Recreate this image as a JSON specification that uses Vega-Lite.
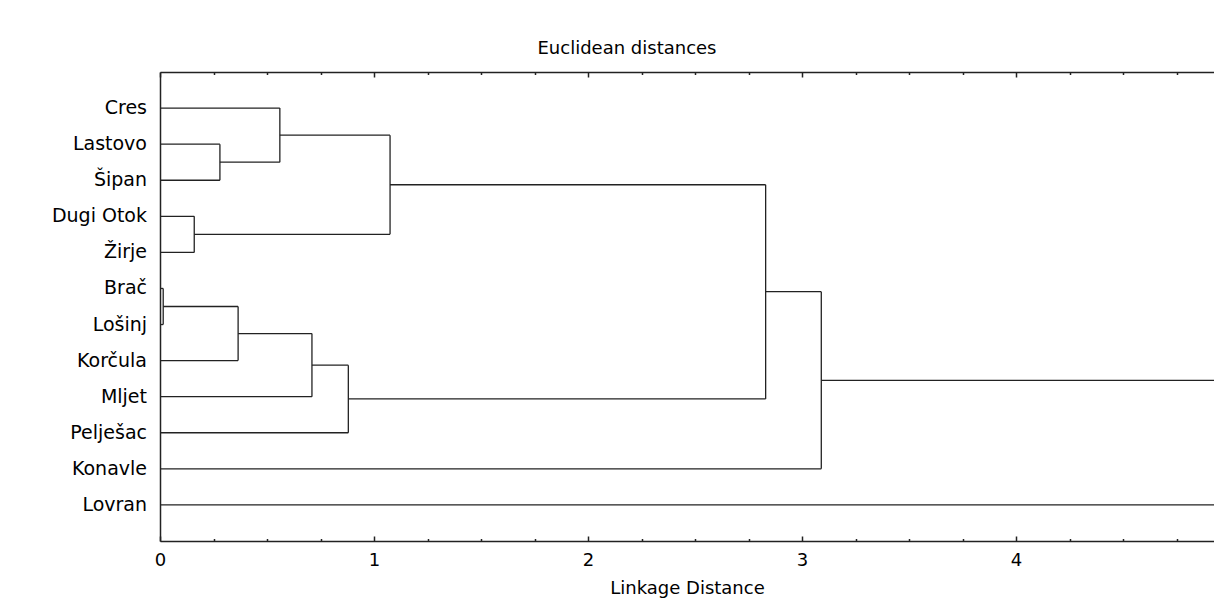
{
  "$schema": "https://vega.github.io/schema/vega-lite/v6.json",
  "autosize": {"type": "none"},
  "padding": {"left": 160, "top": 72, "right": 0, "bottom": 58},
  "width": 1054,
  "height": 469,
  "background": "white",
  "title": {
    "text": "Euclidean distances",
    "font": "DejaVu Sans",
    "fontSize": 18,
    "fontWeight": "normal",
    "color": "#000000",
    "anchor": "middle",
    "dx": -60,
    "offset": 13
  },
  "config": {
    "view": {"stroke": null},
    "axis": {
      "labelFont": "DejaVu Sans",
      "labelFontSize": 18,
      "labelColor": "#000000",
      "titleFont": "DejaVu Sans",
      "titleFontSize": 18,
      "titleFontWeight": "normal",
      "titleColor": "#000000",
      "domainColor": "#222222",
      "domainWidth": 1.5,
      "tickColor": "#222222",
      "tickWidth": 1.5,
      "grid": false
    }
  },
  "datasets": {
    "segments": [
      {"x1": 0, "x2": 0.56, "y1": 1, "y2": 1},
      {"x1": 0, "x2": 0.28, "y1": 2, "y2": 2},
      {"x1": 0, "x2": 0.28, "y1": 3, "y2": 3},
      {"x1": 0, "x2": 0.16, "y1": 4, "y2": 4},
      {"x1": 0, "x2": 0.16, "y1": 5, "y2": 5},
      {"x1": 0, "x2": 0.015, "y1": 6, "y2": 6},
      {"x1": 0, "x2": 0.015, "y1": 7, "y2": 7},
      {"x1": 0, "x2": 0.365, "y1": 8, "y2": 8},
      {"x1": 0, "x2": 0.71, "y1": 9, "y2": 9},
      {"x1": 0, "x2": 0.88, "y1": 10, "y2": 10},
      {"x1": 0, "x2": 3.09, "y1": 11, "y2": 11},
      {"x1": 0, "x2": 5.2, "y1": 12, "y2": 12},
      {"x1": 0.015, "x2": 0.365, "y1": 6.5, "y2": 6.5},
      {"x1": 0.365, "x2": 0.71, "y1": 7.25, "y2": 7.25},
      {"x1": 0.71, "x2": 0.88, "y1": 8.125, "y2": 8.125},
      {"x1": 0.88, "x2": 2.83, "y1": 9.0625, "y2": 9.0625},
      {"x1": 0.28, "x2": 0.56, "y1": 2.5, "y2": 2.5},
      {"x1": 0.56, "x2": 1.075, "y1": 1.75, "y2": 1.75},
      {"x1": 0.16, "x2": 1.075, "y1": 4.5, "y2": 4.5},
      {"x1": 1.075, "x2": 2.83, "y1": 3.125, "y2": 3.125},
      {"x1": 2.83, "x2": 3.09, "y1": 6.09, "y2": 6.09},
      {"x1": 3.09, "x2": 5.2, "y1": 8.55, "y2": 8.55},
      {"x1": 0.015, "x2": 0.015, "y1": 6, "y2": 7},
      {"x1": 0.365, "x2": 0.365, "y1": 6.5, "y2": 8},
      {"x1": 0.71, "x2": 0.71, "y1": 7.25, "y2": 9},
      {"x1": 0.88, "x2": 0.88, "y1": 8.125, "y2": 10},
      {"x1": 0.28, "x2": 0.28, "y1": 2, "y2": 3},
      {"x1": 0.56, "x2": 0.56, "y1": 1, "y2": 2.5},
      {"x1": 0.16, "x2": 0.16, "y1": 4, "y2": 5},
      {"x1": 1.075, "x2": 1.075, "y1": 1.75, "y2": 4.5},
      {"x1": 2.83, "x2": 2.83, "y1": 3.125, "y2": 9.0625},
      {"x1": 3.09, "x2": 3.09, "y1": 6.09, "y2": 11}
    ],
    "leaves": [
      {"name": "Cres", "pos": 1},
      {"name": "Lastovo", "pos": 2},
      {"name": "Šipan", "pos": 3},
      {"name": "Dugi Otok", "pos": 4},
      {"name": "Žirje", "pos": 5},
      {"name": "Brač", "pos": 6},
      {"name": "Lošinj", "pos": 7},
      {"name": "Korčula", "pos": 8},
      {"name": "Mljet", "pos": 9},
      {"name": "Pelješac", "pos": 10},
      {"name": "Konavle", "pos": 11},
      {"name": "Lovran", "pos": 12}
    ]
  },
  "resolve": {"axis": {"x": "independent", "y": "independent"}},
  "layer": [
    {
      "data": {"name": "segments"},
      "mark": {"type": "rule", "color": "#222222", "strokeWidth": 1.3, "clip": true},
      "encoding": {
        "x": {
          "field": "x1", "type": "quantitative",
          "scale": {"domain": [0, 4.925], "nice": false, "zero": false},
          "axis": {
            "orient": "bottom", "values": [0, 1, 2, 3, 4], "format": "d", "labelFlush": false,
            "tickSize": -5, "labelPadding": 15, "title": "Linkage Distance", "titlePadding": 10
          }
        },
        "x2": {"field": "x2"},
        "y": {
          "field": "y1", "type": "quantitative",
          "scale": {"domain": [0, 13], "nice": false, "zero": false, "reverse": true},
          "axis": {"orient": "left", "ticks": false, "labels": false, "title": null, "domain": true}
        },
        "y2": {"field": "y2"}
      }
    },
    {
      "data": {"name": "segments"},
      "mark": {"type": "rule", "opacity": 0},
      "encoding": {
        "x": {
          "field": "x1", "type": "quantitative",
          "scale": {"domain": [0, 4.925], "nice": false, "zero": false},
          "axis": {"orient": "top", "values": [0, 1, 2, 3, 4], "tickSize": -5, "labels": false, "title": null, "domain": true}
        },
        "y": {"field": "y1", "type": "quantitative", "scale": {"domain": [0, 13], "nice": false, "zero": false, "reverse": true}, "axis": null}
      }
    },
    {
      "data": {"name": "segments"},
      "mark": {"type": "rule", "opacity": 0},
      "encoding": {
        "x": {
          "field": "x1", "type": "quantitative",
          "scale": {"domain": [0, 4.925], "nice": false, "zero": false},
          "axis": {"orient": "top", "values": [0.25, 0.5, 0.75, 1.25, 1.5, 1.75, 2.25, 2.5, 2.75, 3.25, 3.5, 3.75, 4.25, 4.5, 4.75], "tickSize": -2.5, "labels": false, "title": null, "domain": false}
        },
        "y": {"field": "y1", "type": "quantitative", "scale": {"domain": [0, 13], "nice": false, "zero": false, "reverse": true}, "axis": null}
      }
    },
    {
      "data": {"name": "segments"},
      "mark": {"type": "rule", "opacity": 0},
      "encoding": {
        "x": {
          "field": "x1", "type": "quantitative",
          "scale": {"domain": [0, 4.925], "nice": false, "zero": false},
          "axis": {"orient": "bottom", "values": [0.25, 0.5, 0.75, 1.25, 1.5, 1.75, 2.25, 2.5, 2.75, 3.25, 3.5, 3.75, 4.25, 4.5, 4.75], "tickSize": -2.5, "labels": false, "title": null, "domain": false}
        },
        "y": {"field": "y1", "type": "quantitative", "scale": {"domain": [0, 13], "nice": false, "zero": false, "reverse": true}, "axis": null}
      }
    },
    {
      "data": {"name": "leaves"},
      "mark": {"type": "text", "align": "right", "baseline": "middle", "dx": -13, "font": "DejaVu Sans", "fontSize": 19, "color": "#000000"},
      "encoding": {
        "x": {"datum": 0, "type": "quantitative", "scale": {"domain": [0, 4.925], "nice": false, "zero": false}, "axis": null},
        "y": {"field": "pos", "type": "quantitative", "scale": {"domain": [0, 13], "nice": false, "zero": false, "reverse": true}, "axis": null},
        "text": {"field": "name"}
      }
    }
  ]
}
